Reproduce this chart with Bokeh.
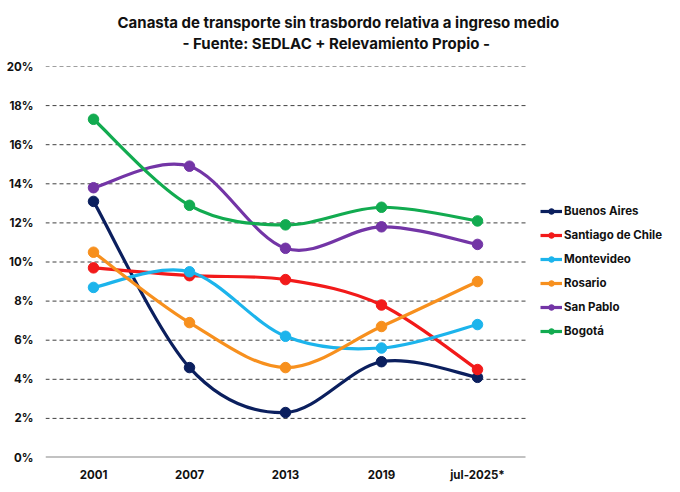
from bokeh.plotting import figure
from bokeh.models import (ColumnDataSource, FixedTicker, PrintfTickFormatter,
                          Legend, LegendItem, Title)
from bokeh.embed import file_html
from bokeh.resources import INLINE

FONT = "Inter"

years = ["2001", "2007", "2013", "2019", "jul-2025*"]

# % del ingreso medio
buenos_aires = [13.1, 4.6, 2.3, 4.9, 4.1]
santiago = [9.7, 9.3, 9.1, 7.8, 4.5]
montevideo = [8.7, 9.5, 6.2, 5.6, 6.8]
rosario = [10.5, 6.9, 4.6, 6.7, 9.0]
san_pablo = [13.8, 14.9, 10.7, 11.8, 10.9]
bogota = [17.3, 12.9, 11.9, 12.8, 12.1]

series = [
    ("Buenos Aires", buenos_aires, "#0b1f5e"),
    ("Santiago de Chile", santiago, "#f21a1a"),
    ("Montevideo", montevideo, "#1cb4ec"),
    ("Rosario", rosario, "#f7901e"),
    ("San Pablo", san_pablo, "#7335a6"),
    ("Bogotá", bogota, "#12ab50"),
]

y_ticks = [0, 2, 4, 6, 8, 10, 12, 14, 16, 18, 20]

W, H = 664, 484
LEFT = 45
PLOT_W = 480          # width of the gridded area; legend sits to its right
n = len(years)
xs = [i + 0.5 for i in range(n)]
x_end = n * (W - LEFT) / PLOT_W

p = figure(width=W, height=H, x_range=(0, x_end), y_range=(0, 20),
           output_backend="svg", toolbar_location=None,
           min_border_left=LEFT, min_border_right=0,
           min_border_top=66, min_border_bottom=26)
p.outline_line_color = None
p.grid.grid_line_color = None

# dashed gridlines and solid base line over the gridded area only
grid_y = y_ticks[1:]
p.segment(x0=[0] * len(grid_y), x1=[n] * len(grid_y), y0=grid_y, y1=grid_y,
          line_color="#404040", line_width=1, line_dash="4 3")
p.segment(x0=[0], x1=[n], y0=[y_ticks[0]], y1=[y_ticks[0]],
          line_color="#858585", line_width=2)

p.xaxis.ticker = FixedTicker(ticks=xs)
p.xaxis.major_label_overrides = {x: lab for x, lab in zip(xs, years)}
p.xaxis.major_label_standoff = 10

p.yaxis.ticker = FixedTicker(ticks=y_ticks)
p.yaxis.formatter = PrintfTickFormatter(format="%d%%")
p.yaxis.major_label_standoff = 12

for ax in (p.xaxis, p.yaxis):
    ax.axis_line_color = None
    ax.major_tick_line_color = None
    ax.minor_tick_line_color = None
    ax.major_tick_out = 0
    ax.major_tick_in = 0
    ax.minor_tick_out = 0
    ax.major_label_text_font = FONT
    ax.major_label_text_font_style = "bold"
    ax.major_label_text_font_size = "11.5px"
    ax.major_label_text_color = "#111111"


# smooth curve through the points (Catmull-Rom as cubic Bezier)
def bezier_source(xv, yv):
    m = len(xv)
    d = dict(x0=[], y0=[], x1=[], y1=[], cx0=[], cy0=[], cx1=[], cy1=[])
    for i in range(m - 1):
        a = max(i - 1, 0)
        b = min(i + 2, m - 1)
        d["x0"].append(xv[i]); d["y0"].append(yv[i])
        d["x1"].append(xv[i + 1]); d["y1"].append(yv[i + 1])
        d["cx0"].append(xv[i] + (xv[i + 1] - xv[a]) / 6)
        d["cy0"].append(yv[i] + (yv[i + 1] - yv[a]) / 6)
        d["cx1"].append(xv[i + 1] - (xv[b] - xv[i]) / 6)
        d["cy1"].append(yv[i + 1] - (yv[b] - yv[i]) / 6)
    return ColumnDataSource(d)


items = []
for name, vals, col in series:
    src = bezier_source(xs, vals)
    curve = p.bezier(x0="x0", y0="y0", x1="x1", y1="y1", cx0="cx0", cy0="cy0",
                     cx1="cx1", cy1="cy1", source=src, line_color=col, line_width=3.2)
    dots = p.scatter(xs, vals, size=10.5, color=col)
    items.append(LegendItem(label=name, renderers=[curve, dots]))

legend = Legend(items=items, location=(495, 116), padding=0, margin=0,
                spacing=4, label_height=20, glyph_width=22, glyph_height=14,
                label_standoff=2, border_line_color=None,
                background_fill_alpha=0,
                label_text_font=FONT, label_text_font_style="bold",
                label_text_font_size="11.5px", label_text_color="#111111")
p.add_layout(legend, "center")

# titles (stacked upward from the frame: spacer, second line, first line)
spacer = Title(text=" ", standoff=11, text_font_size="1px")
title2 = Title(text="- Fuente: SEDLAC + Relevamiento Propio -", align="left",
               offset=137, standoff=0, text_font=FONT, text_font_style="bold",
               text_font_size="15px", text_color="#111111")
title1 = Title(text="Canasta de transporte sin trasbordo relativa a ingreso medio",
               align="left", offset=72, standoff=0, text_font=FONT,
               text_font_style="bold", text_font_size="15px", text_color="#111111")
p.add_layout(spacer, "above")
p.add_layout(title2, "above")
p.add_layout(title1, "above")

open("out.html", "w").write(file_html(p, INLINE))
